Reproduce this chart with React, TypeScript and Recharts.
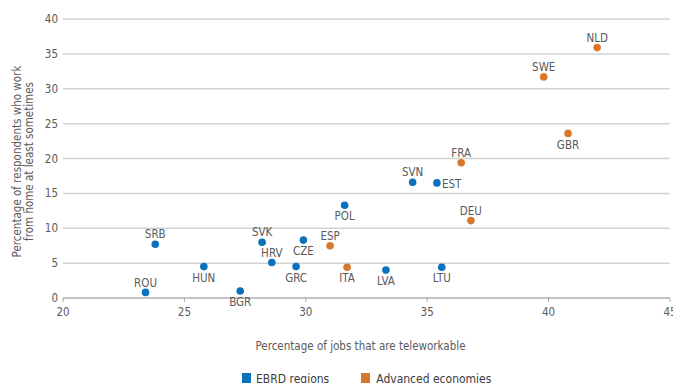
import React from 'react';
import { ScatterChart, Scatter, XAxis, YAxis, CartesianGrid, Legend, LabelList } from 'recharts';

// EBRD regions
const ebrdCodes = ['ROU', 'SRB', 'HUN', 'BGR', 'SVK', 'HRV', 'GRC', 'CZE', 'POL', 'LVA', 'SVN', 'EST', 'LTU'];
const ebrdTeleworkable = [23.4, 23.8, 25.8, 27.3, 28.2, 28.6, 29.6, 29.9, 31.6, 33.3, 34.4, 35.4, 35.6];
const ebrdWorkFromHome = [0.8, 7.7, 4.5, 1.0, 8.0, 5.1, 4.5, 8.3, 13.3, 4.0, 16.6, 16.5, 4.4];

// Advanced economies
const advCodes = ['ESP', 'ITA', 'FRA', 'DEU', 'SWE', 'GBR', 'NLD'];
const advTeleworkable = [31.0, 31.7, 36.4, 36.8, 39.8, 40.8, 42.0];
const advWorkFromHome = [7.5, 4.4, 19.4, 11.1, 31.7, 23.6, 35.9];

const xTicks = [20, 25, 30, 35, 40, 45];
const yTicks = [0, 5, 10, 15, 20, 25, 30, 35, 40];

// where each country label sits relative to its dot (default: above)
const labelsBelow = ['HUN', 'BGR', 'GRC', 'CZE', 'POL', 'LVA', 'LTU', 'ITA', 'GBR'];
const labelsRight = ['EST'];

const BLUE = '#0a72bd';
const ORANGE = '#d9782b';
const TEXT = '#5a5a5a';
const FONT = '"DejaVu Sans Condensed", "Liberation Sans", sans-serif';

const ebrdData = ebrdCodes.map((code, i) => ({ code, x: ebrdTeleworkable[i], y: ebrdWorkFromHome[i] }));
const advData = advCodes.map((code, i) => ({ code, x: advTeleworkable[i], y: advWorkFromHome[i] }));

const Dot = (color: string) => (props: any) => <circle cx={props.cx} cy={props.cy} r={3.8} fill={color} />;

const CountryLabel = (props: any) => {
  const { x, y, width = 0, height = 0, value } = props;
  const cx = x + width / 2;
  const cy = y + height / 2;
  if (labelsRight.includes(value)) {
    return (
      <text x={cx + 5} y={cy + 1} dy="0.36em" textAnchor="start" fill={TEXT} fontSize={11.5} fontFamily={FONT}>
        {value}
      </text>
    );
  }
  const below = labelsBelow.includes(value);
  return (
    <text x={cx} y={below ? cy + 11 : cy - 10} dy="0.36em" textAnchor="middle" fill={TEXT} fontSize={11.5} fontFamily={FONT}>
      {value}
    </text>
  );
};

const YTitle = (props: any) => {
  const { viewBox } = props;
  const cy = viewBox.y + viewBox.height / 2 + 3;
  return (
    <text transform={`translate(23, ${cy}) rotate(-90)`} textAnchor="middle" fill={TEXT} fontSize={11.5} fontFamily={FONT}>
      <tspan x={0} dy="-0.2em">Percentage of respondents who work</tspan>
      <tspan x={0} dy="1.05em">from home at least sometimes</tspan>
    </text>
  );
};

const LegendContent = () => (
  <div
    style={{
      height: 20,
      boxSizing: 'border-box',
      paddingTop: 8,
      paddingLeft: 242,
      display: 'flex',
      alignItems: 'flex-start',
      fontFamily: FONT,
      fontSize: 12,
      lineHeight: '16px',
      color: '#3c3c3c',
      whiteSpace: 'nowrap',
    }}
  >
    <span style={{ display: 'inline-block', width: 9, height: 10, background: BLUE, marginTop: 2, marginRight: 5 }} />
    <span style={{ marginRight: 32 }}>EBRD regions</span>
    <span style={{ display: 'inline-block', width: 9, height: 10, background: ORANGE, marginTop: 2, marginRight: 6 }} />
    <span>Advanced economies</span>
  </div>
);

export default function App() {
  return (
    <div style={{ position: 'absolute', left: 0, top: 0, background: '#fff' }}>
      <ScatterChart
        width={673}
        height={383}
        margin={{ top: 19, right: 3, bottom: 0, left: 0 }}
        style={{ fontFamily: FONT }}
      >
        <CartesianGrid vertical={false} stroke="#d2d2d2" strokeWidth={1.5} />
        <XAxis
          type="number"
          dataKey="x"
          domain={[20, 45]}
          ticks={xTicks}
          interval={0}
          axisLine={{ stroke: '#a8a8a8' }}
          tickLine={{ stroke: '#a8a8a8' }}
          tickSize={4}
          tickMargin={6}
          height={65}
          tick={{ fill: TEXT, fontSize: 11.5 }}
          label={{
            value: 'Percentage of jobs that are teleworkable',
            position: 'insideBottom',
            offset: 13,
            dx: -6,
            fill: TEXT,
            fontSize: 11.5,
          }}
        />
        <YAxis
          type="number"
          dataKey="y"
          domain={[0, 40]}
          ticks={yTicks}
          interval={0}
          axisLine={false}
          tickLine={false}
          tickSize={3}
          tickMargin={2}
          width={63}
          tick={{ fill: TEXT, fontSize: 11.5 }}
          label={{ content: YTitle }}
        />
        <Legend verticalAlign="bottom" content={LegendContent} wrapperStyle={{ left: 0, width: 673 }} />
        <Scatter name="EBRD regions" data={ebrdData} fill={BLUE} shape={Dot(BLUE)} isAnimationActive={false}>
          <LabelList dataKey="code" content={CountryLabel} />
        </Scatter>
        <Scatter name="Advanced economies" data={advData} fill={ORANGE} shape={Dot(ORANGE)} isAnimationActive={false}>
          <LabelList dataKey="code" content={CountryLabel} />
        </Scatter>
      </ScatterChart>
    </div>
  );
}
